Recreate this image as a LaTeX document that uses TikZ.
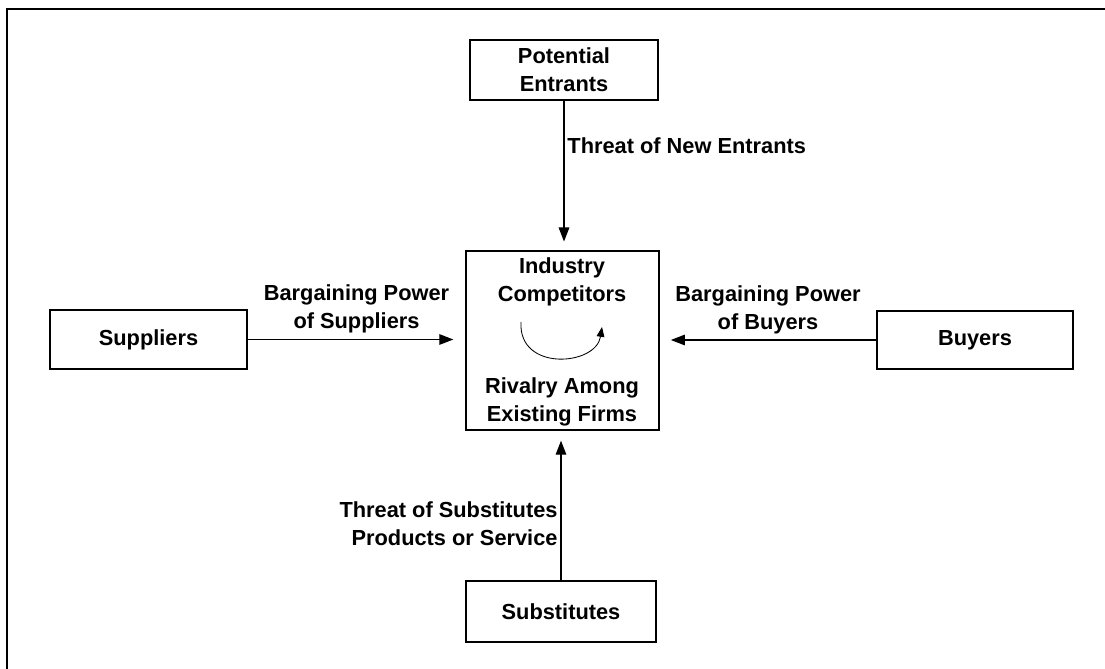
\documentclass[tikz,border=0pt]{standalone}
\usepackage{fontspec}
\setmainfont{Liberation Sans}
\usetikzlibrary{positioning,arrows.meta}

\tikzset{
  forcebox/.style={draw, align=center, inner sep=2pt},
  forcetxt/.style={align=center, inner sep=2pt},
}

\begin{document}
\begin{tikzpicture}[x=0.025cm, y=-0.025cm, line width=0.9pt,
    >={Triangle[length=10pt,width=7.5pt]},
    font=\bfseries\fontsize{15.5}{20}\selectfont]
    \useasboundingbox (0,0) rectangle (1105,669);

    % Outer frame (top and left edges only)
    \draw[line width=1.4pt] (7,669) -- (7,9) -- (1105,9);

    % Boxes
    \node[forcebox, minimum width=4.7cm, minimum height=1.5cm] (entrants) at (564,70) {Potential\\Entrants};
    \node[forcebox, minimum width=4.825cm, minimum height=4.475cm] (industry) at (562.5,340.5) {};
    \node[forcebox, minimum width=4.925cm, minimum height=1.475cm] (suppliers) at (148.5,339.5) {Suppliers};
    \node[forcebox, minimum width=4.9cm, minimum height=1.45cm] (buyers) at (975,340) {Buyers};
    \node[forcebox, minimum width=4.75cm, minimum height=1.525cm] (substitutes) at (561,611.5) {Substitutes};

    % Texts inside the industry box
    \node[forcetxt] (competitors) at (562,282) {Industry\\Competitors};
    \node[forcetxt] (rivalry) at (562,402) {Rivalry Among\\Existing Firms};

    % Rivalry arrow
    \coordinate (rivalstart) at (521,322);
    \coordinate (rivalend) at (602,327);
    \draw[-{Triangle[length=7pt,width=5.5pt]}, line width=0.6pt]
        (rivalstart) .. controls (518,372) and (596,366) .. (rivalend);

    % Forces
    \draw[->, shorten >=0.22cm] (entrants.south) -- (entrants.south |- industry.north)
        node[pos=0.3, right, forcetxt] {Threat of New Entrants};
    \draw[->, shorten >=0.3cm] (suppliers.east) -- (suppliers.east -| industry.west)
        node[midway, above, forcetxt, yshift=2pt] {Bargaining Power\\of Suppliers};
    \draw[->, shorten >=0.28cm] (buyers.west) -- (buyers.west -| industry.east)
        node[midway, above, forcetxt, yshift=2pt] {Bargaining Power\\of Buyers};
    \draw[->, shorten >=0.25cm] (substitutes.north) -- (substitutes.north |- industry.south)
        node[pos=0.38, left, forcetxt, align=right] {Threat of Substitutes\\Products or Service};
\end{tikzpicture}
\end{document}
